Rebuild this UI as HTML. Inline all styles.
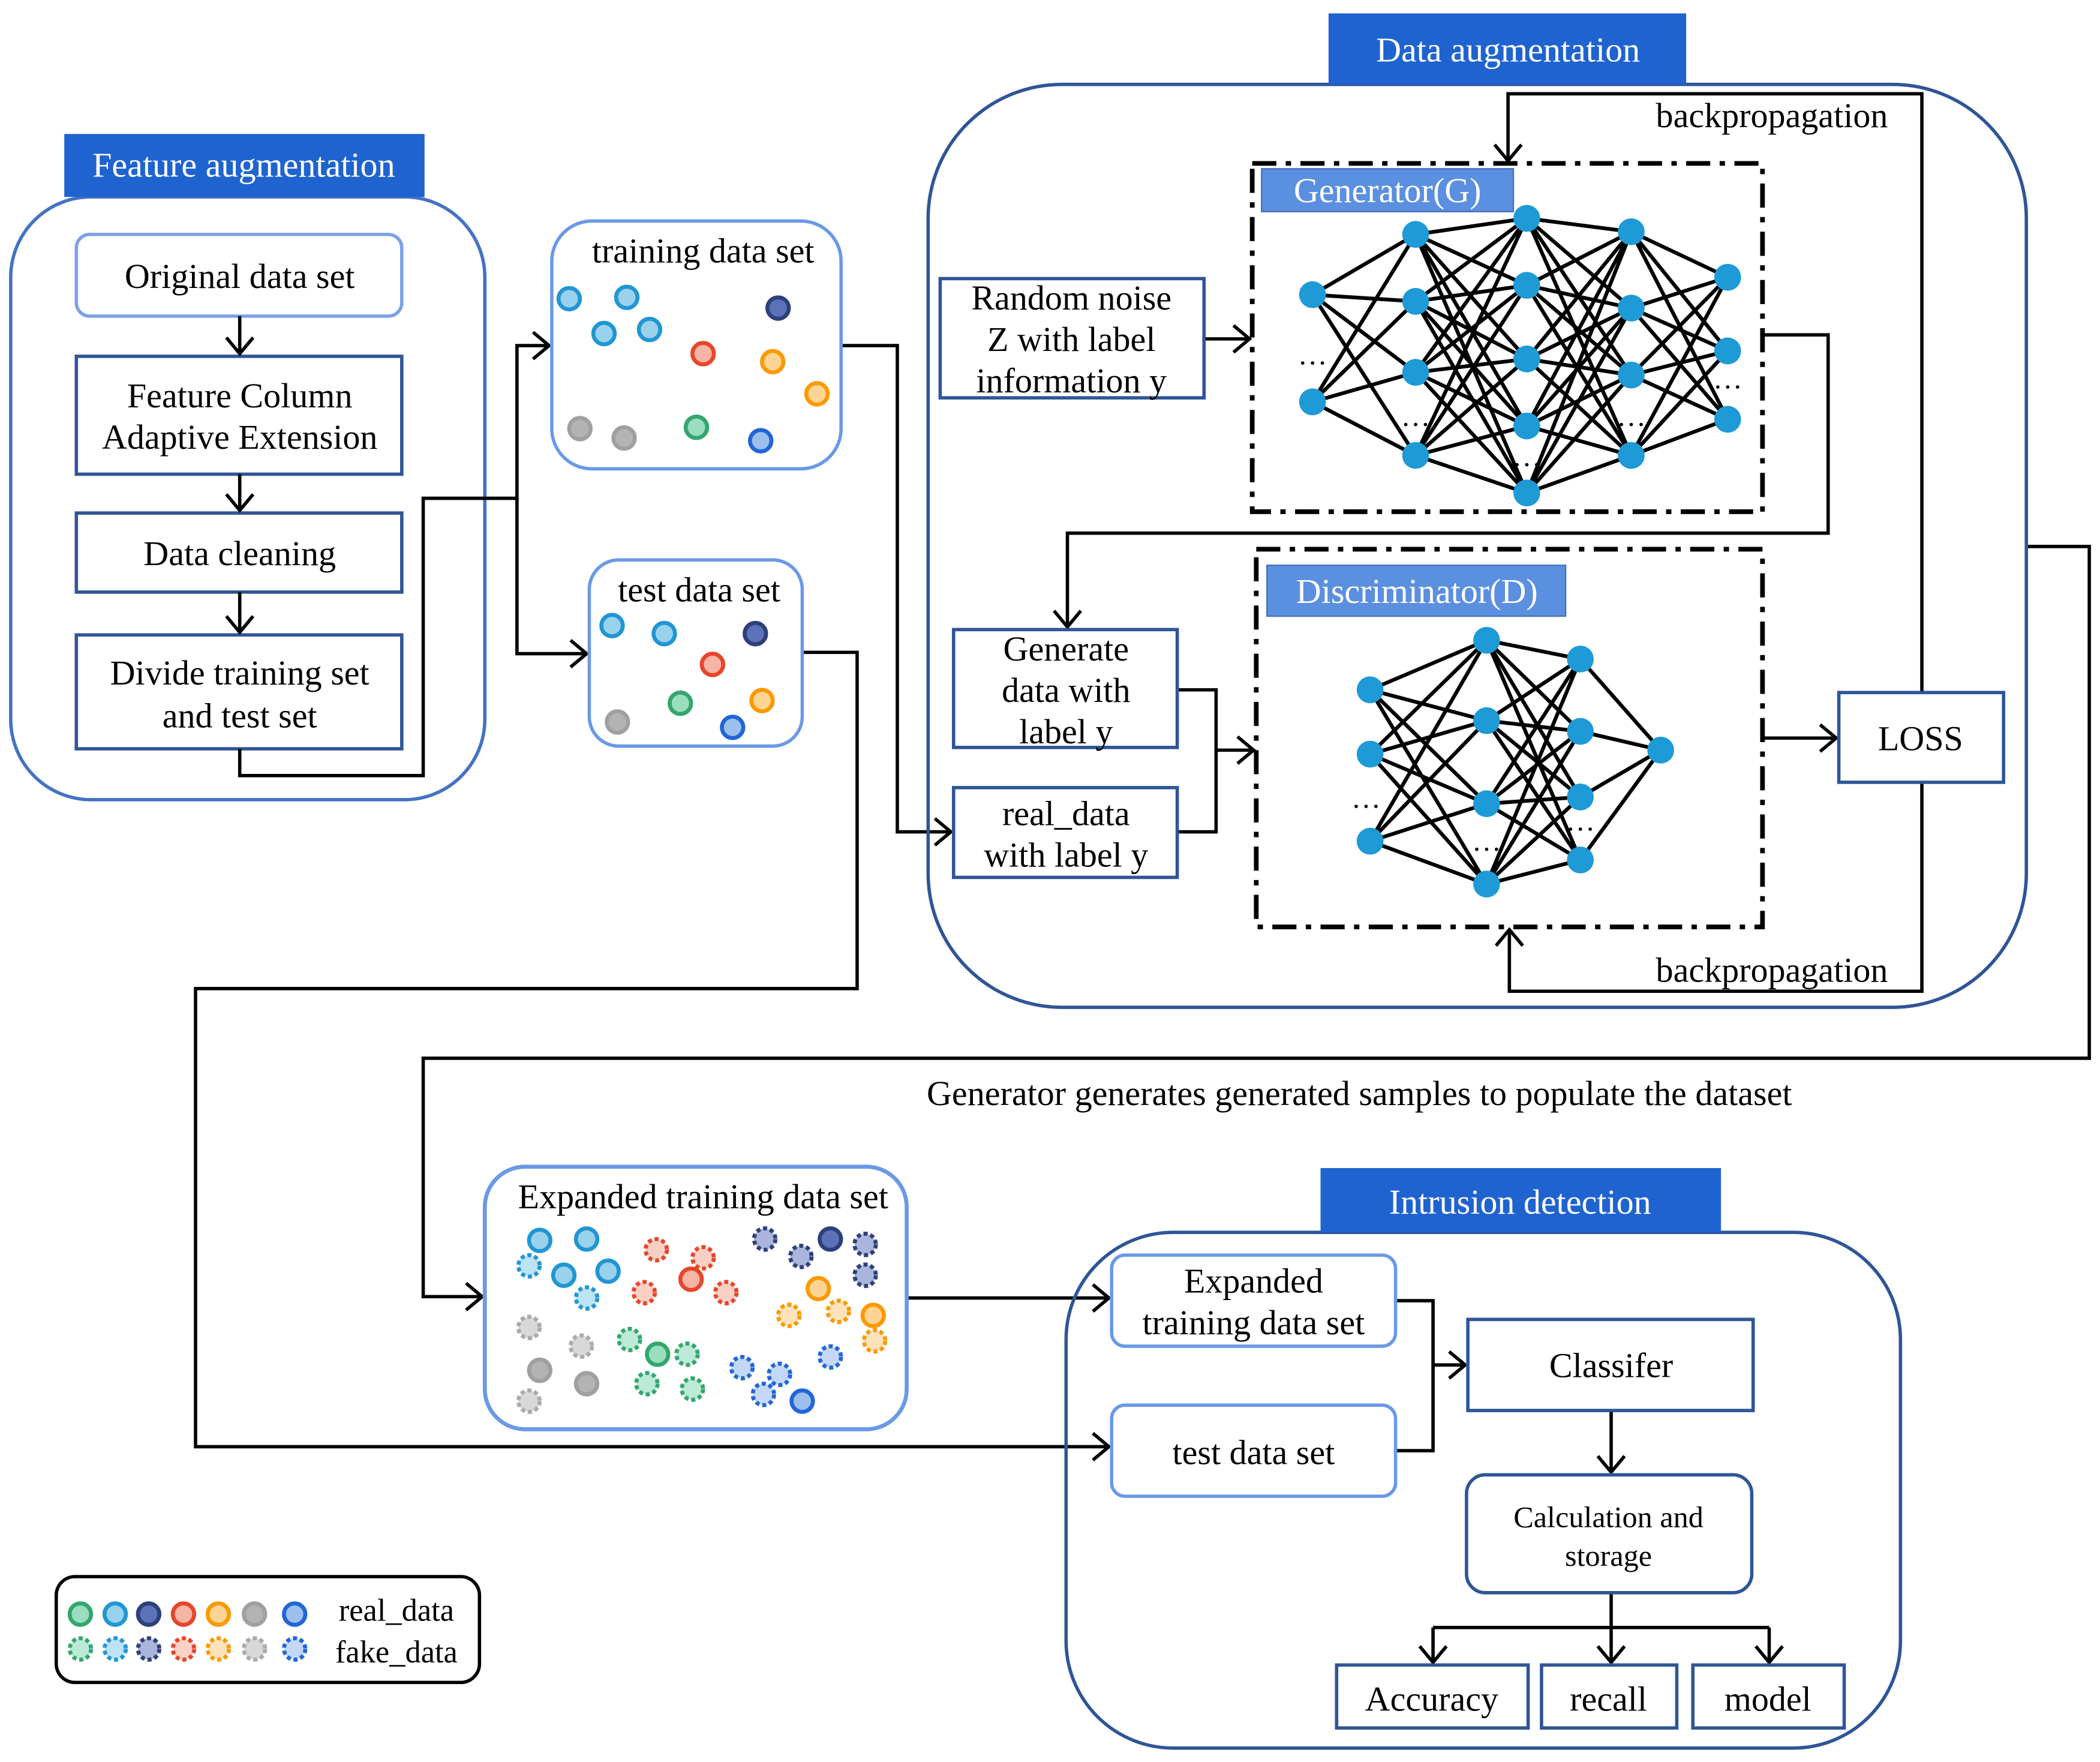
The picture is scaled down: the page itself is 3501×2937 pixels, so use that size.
<!DOCTYPE html>
<html><head><meta charset="utf-8"><style>
html,body{margin:0;padding:0;background:#fff;}
svg{display:block;}
text{font-family:"Liberation Serif",serif;fill:#000;}
.w{fill:#fff;}
circle{stroke-width:3;}
.n{fill:#1E9AD6;stroke:none;}
.f{stroke-dasharray:3 2.2;}
.c{fill:#9AD2EE;stroke:#2196D3}.c.f{fill:#BEE3F5}
.k{fill:#5B72B8;stroke:#2E3F7A}.k.f{fill:#A9B5DA}
.r{fill:#F6B5A6;stroke:#E8452A}.r.f{fill:#F9D0C6}
.o{fill:#FDD493;stroke:#FA9A00}.o.f{fill:#FDE3BC}
.g{fill:#B3B3B3;stroke:#A0A0A0}.g.f{fill:#D8D8D8;stroke:#AAAAAA}
.e{fill:#9ADDBF;stroke:#33A66E}.e.f{fill:#BBEAD6}
.b{fill:#9CBFEE;stroke:#2266D6}.b.f{fill:#C3D8F6}
</style></head><body>
<svg width="3501" height="2937" viewBox="0 0 1568 1315.4" preserveAspectRatio="none" xmlns="http://www.w3.org/2000/svg">
<defs>
<marker id="b" markerWidth="26" markerHeight="26" refX="24" refY="13" orient="auto" markerUnits="userSpaceOnUse"><path d="M12,3 L24,13 L12,23" fill="none" stroke="#000" stroke-width="2.5"/></marker>
</defs>
<rect width="1568" height="1316" fill="#fff"/>
<g stroke="#000" stroke-width="2.8" fill="none">
<path d="M980 220L1057 175M980 220L1057 225M980 220L1057 278M980 220L1057 340M980 300L1057 175M980 300L1057 225M980 300L1057 278M980 300L1057 340"/>
<path d="M1057 175L1140 163M1057 175L1140 213M1057 175L1140 268M1057 175L1140 318M1057 175L1140 368M1057 225L1140 163M1057 225L1140 213M1057 225L1140 268M1057 225L1140 318M1057 225L1140 368M1057 278L1140 163M1057 278L1140 213M1057 278L1140 268M1057 278L1140 318M1057 278L1140 368M1057 340L1140 163M1057 340L1140 213M1057 340L1140 268M1057 340L1140 318M1057 340L1140 368"/>
<path d="M1218 173L1140 163M1218 173L1140 213M1218 173L1140 268M1218 173L1140 318M1218 173L1140 368M1218 230L1140 163M1218 230L1140 213M1218 230L1140 268M1218 230L1140 318M1218 230L1140 368M1218 280L1140 163M1218 280L1140 213M1218 280L1140 268M1218 280L1140 318M1218 280L1140 368M1218 340L1140 163M1218 340L1140 213M1218 340L1140 268M1218 340L1140 318M1218 340L1140 368"/>
<path d="M1218 173L1290 207M1218 173L1290 262M1218 173L1290 313M1218 230L1290 207M1218 230L1290 262M1218 230L1290 313M1218 280L1290 207M1218 280L1290 262M1218 280L1290 313M1218 340L1290 207M1218 340L1290 262M1218 340L1290 313"/>
<path d="M1023 515L1110 478M1023 515L1110 538M1023 515L1110 600M1023 515L1110 660M1023 563L1110 478M1023 563L1110 538M1023 563L1110 600M1023 563L1110 660M1023 628L1110 478M1023 628L1110 538M1023 628L1110 600M1023 628L1110 660"/>
<path d="M1110 478L1180 492M1110 478L1180 546M1110 478L1180 595M1110 478L1180 642M1110 538L1180 492M1110 538L1180 546M1110 538L1180 595M1110 538L1180 642M1110 600L1180 492M1110 600L1180 546M1110 600L1180 595M1110 600L1180 642M1110 660L1180 492M1110 660L1180 546M1110 660L1180 595M1110 660L1180 642"/>
<path d="M1180 492L1240 560M1180 546L1240 560M1180 595L1240 560M1180 642L1240 560"/>
</g>
<g>
<circle class="n" cx="980" cy="220" r="10"/><circle class="n" cx="980" cy="300" r="10"/>
<circle class="n" cx="1057" cy="175" r="10"/><circle class="n" cx="1057" cy="225" r="10"/><circle class="n" cx="1057" cy="278" r="10"/><circle class="n" cx="1057" cy="340" r="10"/>
<circle class="n" cx="1140" cy="163" r="10"/><circle class="n" cx="1140" cy="213" r="10"/><circle class="n" cx="1140" cy="268" r="10"/><circle class="n" cx="1140" cy="318" r="10"/><circle class="n" cx="1140" cy="368" r="10"/>
<circle class="n" cx="1218" cy="173" r="10"/><circle class="n" cx="1218" cy="230" r="10"/><circle class="n" cx="1218" cy="280" r="10"/><circle class="n" cx="1218" cy="340" r="10"/>
<circle class="n" cx="1290" cy="207" r="10"/><circle class="n" cx="1290" cy="262" r="10"/><circle class="n" cx="1290" cy="313" r="10"/>
<circle class="n" cx="1023" cy="515" r="10"/><circle class="n" cx="1023" cy="563" r="10"/><circle class="n" cx="1023" cy="628" r="10"/>
<circle class="n" cx="1110" cy="478" r="10"/><circle class="n" cx="1110" cy="538" r="10"/><circle class="n" cx="1110" cy="600" r="10"/><circle class="n" cx="1110" cy="660" r="10"/>
<circle class="n" cx="1180" cy="492" r="10"/><circle class="n" cx="1180" cy="546" r="10"/><circle class="n" cx="1180" cy="595" r="10"/><circle class="n" cx="1180" cy="642" r="10"/>
<circle class="n" cx="1240" cy="560" r="10"/>
</g>
<g font-size="26" text-anchor="middle">
<rect x="8" y="147" width="354" height="450" rx="60" fill="none" stroke="#4472C4" stroke-width="2.5"/>
<rect x="48" y="100" width="269" height="47" fill="#1F63D0"/>
<text x="182" y="132" class="w">Feature augmentation</text>
<rect x="57" y="175" width="243" height="61" rx="10" fill="#fff" stroke="#7DA1E6" stroke-width="2.5"/>
<text x="179" y="215">Original data set</text>
<rect x="57" y="266" width="243" height="88" fill="#fff" stroke="#2F5597" stroke-width="2.5"/>
<text x="179" y="304">Feature Column</text><text x="179" y="335">Adaptive Extension</text>
<rect x="57" y="383" width="243" height="59" fill="#fff" stroke="#2F5597" stroke-width="2.5"/>
<text x="179" y="422">Data cleaning</text>
<rect x="57" y="474" width="243" height="85" fill="#fff" stroke="#2F5597" stroke-width="2.5"/>
<text x="179" y="511">Divide training set</text><text x="179" y="543">and test set</text>
<g stroke="#000" stroke-width="2.5" fill="none">
<path d="M179,236 V264" marker-end="url(#b)"/>
<path d="M179,354 V381" marker-end="url(#b)"/>
<path d="M179,442 V472" marker-end="url(#b)"/>
<path d="M179,559 V579 H316 V372 H386 V258 H410" marker-end="url(#b)"/>
<path d="M386,372 V488 H438" marker-end="url(#b)"/>
<path d="M628,258 H670 V621 H710" marker-end="url(#b)"/>
<path d="M599,487 H640 V738 H146 V1080 H828" marker-end="url(#b)"/>
<path d="M1513,408 H1560 V790 H316 V968 H360" marker-end="url(#b)"/>
<path d="M677,969 H828" marker-end="url(#b)"/>
<path d="M899,253 H933" marker-end="url(#b)"/>
<path d="M1435,517 V70 H1126 V120" marker-end="url(#b)"/>
<path d="M1435,584 V740 H1127 V694" marker-end="url(#b)"/>
<path d="M1316,250 H1365 V398 H797 V468" marker-end="url(#b)"/>
<path d="M879,515 H908 V621 H879"/>
<path d="M908,560 H936" marker-end="url(#b)"/>
<path d="M1316,551 H1371" marker-end="url(#b)"/>
<path d="M1042,971 H1070 V1083 H1042"/>
<path d="M1070,1019 H1094" marker-end="url(#b)"/>
<path d="M1203,1053 V1099" marker-end="url(#b)"/>
<path d="M1203,1189 V1241" marker-end="url(#b)"/>
<path d="M1070,1215 H1321"/>
<path d="M1070,1215 V1241" marker-end="url(#b)"/>
<path d="M1321,1215 V1241" marker-end="url(#b)"/>
</g>
<rect x="412" y="165" width="216" height="185" rx="30" fill="none" stroke="#6A99E6" stroke-width="2.5"/>
<text x="525" y="196">training data set</text>
<rect x="440" y="418" width="159" height="139" rx="22" fill="none" stroke="#6A99E6" stroke-width="2.5"/>
<text x="522" y="449">test data set</text>
<rect x="693" y="63" width="820" height="689" rx="100" fill="none" stroke="#2F5597" stroke-width="2.5"/>
<rect x="992" y="10" width="267" height="53" fill="#1F63D0"/>
<text x="1126" y="46" class="w">Data augmentation</text>
<text x="1323" y="95">backpropagation</text>
<text x="1323" y="733">backpropagation</text>
<rect x="935" y="122" width="381" height="260" fill="none" stroke="#000" stroke-width="3.5" stroke-dasharray="18,7,4,7"/>
<rect x="942" y="126" width="188" height="32" fill="#5B8FE0" stroke="#3F6FC0"/>
<text x="1036" y="151" class="w">Generator(G)</text>
<rect x="702" y="208" width="197" height="89" fill="#fff" stroke="#2F5597" stroke-width="2.5"/>
<text x="800" y="231">Random noise</text><text x="800" y="262">Z with label</text><text x="800" y="293">information y</text>
<rect x="938" y="410" width="378" height="282" fill="none" stroke="#000" stroke-width="3.5" stroke-dasharray="18,7,4,7"/>
<rect x="946" y="422" width="223" height="38" fill="#5B8FE0" stroke="#3F6FC0"/>
<text x="1058" y="450" class="w">Discriminator(D)</text>
<rect x="712" y="470" width="167" height="88" fill="#fff" stroke="#2F5597" stroke-width="2.5"/>
<text x="796" y="493">Generate</text><text x="796" y="524">data with</text><text x="796" y="555">label y</text>
<rect x="712" y="588" width="167" height="67" fill="#fff" stroke="#2F5597" stroke-width="2.5"/>
<text x="796" y="616">real_data</text><text x="796" y="647">with label y</text>
<rect x="1373" y="517" width="123" height="67" fill="#fff" stroke="#2F5597" stroke-width="2.5"/>
<text x="1434" y="560">LOSS</text>
<text x="1015" y="825">Generator generates generated samples to populate the dataset</text>
<rect x="362" y="871" width="315" height="196" rx="30" fill="none" stroke="#6A99E6" stroke-width="3"/>
<text x="525" y="902">Expanded training data set</text>
<rect x="796" y="920" width="623" height="385" rx="80" fill="none" stroke="#2F5597" stroke-width="2.5"/>
<rect x="986" y="872" width="299" height="48" fill="#1F63D0"/>
<text x="1135" y="906" class="w">Intrusion detection</text>
<rect x="830" y="937" width="212" height="68" rx="10" fill="#fff" stroke="#6A99E6" stroke-width="2.5"/>
<text x="936" y="965">Expanded</text><text x="936" y="996">training data set</text>
<rect x="830" y="1049" width="212" height="68" rx="10" fill="#fff" stroke="#6A99E6" stroke-width="2.5"/>
<text x="936" y="1093">test data set</text>
<rect x="1096" y="985" width="213" height="68" fill="#fff" stroke="#2F5597" stroke-width="2.5"/>
<text x="1203" y="1028">Classifer</text>
<rect x="1095" y="1101" width="213" height="88" rx="14" fill="#fff" stroke="#2F5597" stroke-width="2.5"/>
<text x="1201" y="1140" font-size="22.5">Calculation and</text><text x="1201" y="1169" font-size="22.5">storage</text>
<rect x="998" y="1243" width="143" height="47" fill="#fff" stroke="#2F5597" stroke-width="2.5"/>
<text x="1069" y="1277">Accuracy</text>
<rect x="1151" y="1243" width="101" height="47" fill="#fff" stroke="#2F5597" stroke-width="2.5"/>
<text x="1201" y="1277">recall</text>
<rect x="1264" y="1243" width="113" height="47" fill="#fff" stroke="#2F5597" stroke-width="2.5"/>
<text x="1320" y="1277">model</text>
<rect x="42" y="1177" width="316" height="79" rx="14" fill="none" stroke="#000" stroke-width="2.5"/>
<text x="296" y="1210" font-size="23.5">real_data</text>
<text x="296" y="1241" font-size="23.5">fake_data</text>
<text x="980" y="272" font-size="22">…</text>
<text x="1057" y="318" font-size="22">…</text>
<text x="1140" y="348" font-size="22">…</text>
<text x="1218" y="318" font-size="22">…</text>
<text x="1290" y="290" font-size="22">…</text>
<text x="1020" y="603" font-size="22">…</text>
<text x="1110" y="635" font-size="22">…</text>
<text x="1180" y="620" font-size="22">…</text>
</g>
<g>
<circle class="c" cx="425" cy="223" r="8"/><circle class="c" cx="468" cy="222" r="8"/><circle class="c" cx="451" cy="249" r="8"/><circle class="c" cx="485" cy="246" r="8"/><circle class="k" cx="581" cy="230" r="8"/><circle class="r" cx="525" cy="264" r="8"/><circle class="o" cx="577" cy="270" r="8"/><circle class="o" cx="610" cy="294" r="8"/><circle class="g" cx="433" cy="320" r="8"/><circle class="g" cx="466" cy="327" r="8"/><circle class="e" cx="520" cy="319" r="8"/><circle class="b" cx="568" cy="329" r="8"/>
<circle class="c" cx="457" cy="467" r="8"/><circle class="c" cx="496" cy="473" r="8"/><circle class="k" cx="564" cy="473" r="8"/><circle class="r" cx="532" cy="496" r="8"/><circle class="o" cx="569" cy="523" r="8"/><circle class="g" cx="461" cy="539" r="8"/><circle class="e" cx="508" cy="525" r="8"/><circle class="b" cx="547" cy="543" r="8"/>
<circle class="c" cx="403" cy="926" r="8"/><circle class="c" cx="438" cy="925" r="8"/><circle class="c f" cx="395" cy="945" r="8"/><circle class="c" cx="421" cy="952" r="8"/><circle class="c" cx="454" cy="949" r="8"/><circle class="c f" cx="438" cy="969" r="8"/>
<circle class="r f" cx="490" cy="933" r="8"/><circle class="r f" cx="525" cy="939" r="8"/><circle class="r" cx="516" cy="955" r="8"/><circle class="r f" cx="481" cy="965" r="8"/><circle class="r f" cx="542" cy="965" r="8"/>
<circle class="k f" cx="571" cy="925" r="8"/><circle class="k" cx="620" cy="925" r="8"/><circle class="k f" cx="646" cy="929" r="8"/><circle class="k f" cx="598" cy="938" r="8"/><circle class="k f" cx="646" cy="952" r="8"/>
<circle class="o" cx="611" cy="962" r="8"/><circle class="o f" cx="589" cy="982" r="8"/><circle class="o f" cx="626" cy="979" r="8"/><circle class="o" cx="652" cy="982" r="8"/><circle class="o f" cx="653" cy="1001" r="8"/>
<circle class="g f" cx="395" cy="991" r="8"/><circle class="g f" cx="434" cy="1005" r="8"/><circle class="g" cx="403" cy="1023" r="8"/><circle class="g" cx="438" cy="1033" r="8"/><circle class="g f" cx="395" cy="1046" r="8"/>
<circle class="e f" cx="470" cy="1000" r="8"/><circle class="e" cx="491" cy="1011" r="8"/><circle class="e f" cx="513" cy="1011" r="8"/><circle class="e f" cx="483" cy="1033" r="8"/><circle class="e f" cx="517" cy="1037" r="8"/>
<circle class="b f" cx="554" cy="1021" r="8"/><circle class="b f" cx="582" cy="1026" r="8"/><circle class="b f" cx="570" cy="1041" r="8"/><circle class="b" cx="599" cy="1046" r="8"/><circle class="b f" cx="620" cy="1013" r="8"/>
<circle class="e" cx="60" cy="1205" r="8"/><circle class="c" cx="86" cy="1205" r="8"/><circle class="k" cx="111" cy="1205" r="8"/><circle class="r" cx="137" cy="1205" r="8"/><circle class="o" cx="163" cy="1205" r="8"/><circle class="g" cx="190" cy="1205" r="8"/><circle class="b" cx="220" cy="1205" r="8"/>
<circle class="e f" cx="60" cy="1231" r="8"/><circle class="c f" cx="86" cy="1231" r="8"/><circle class="k f" cx="111" cy="1231" r="8"/><circle class="r f" cx="137" cy="1231" r="8"/><circle class="o f" cx="163" cy="1231" r="8"/><circle class="g f" cx="190" cy="1231" r="8"/><circle class="b f" cx="220" cy="1231" r="8"/>
</g>
</svg>
</body></html>
